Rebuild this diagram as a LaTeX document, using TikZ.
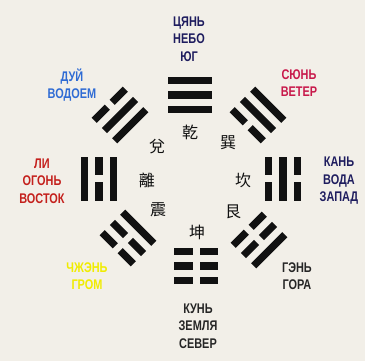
\documentclass[tikz,border=0pt]{standalone}
\usepackage{fontspec}
\newfontfamily\labelfont[FakeStretch=0.78]{Liberation Sans}
\newfontfamily\hanfont{Noto Sans CJK TC}
\definecolor{paper}{HTML}{F2EFE8}
\definecolor{barink}{HTML}{111111}
\definecolor{navyink}{HTML}{1E1C5E}
\definecolor{blueink}{HTML}{2F6BD4}
\definecolor{crimsonink}{HTML}{C8194B}
\definecolor{redink}{HTML}{C4201C}
\definecolor{yellowink}{HTML}{F0EC00}
\definecolor{grayink}{HTML}{262626}
\tikzset{
  barfill/.style={fill=barink},
  gualabel/.style={font={\labelfont\bfseries\fontsize{14}{17.5}\selectfont},
    align=center, inner sep=0pt},
  hanchar/.style={font={\hanfont\fontsize{16}{16}\selectfont}, text=barink,
    inner sep=0pt}
}
% trigram: centre, rotation, lines from outer to inner (1 solid, 0 broken)
\newcommand{\drawgua}[3]{%
  \begin{scope}[shift={#1}, rotate=#2]
    \foreach \l [count=\i] in {#3} {
      \pgfmathsetmacro{\yy}{(2-\i)*14.5}
      \ifnum\l=1
        \fill[barfill] (-22,\yy-3.7) rectangle (22,\yy+3.7);
      \else
        \fill[barfill] (-22,\yy-3.7) rectangle (-3.5,\yy+3.7);
        \fill[barfill] (3.5,\yy-3.7) rectangle (22,\yy+3.7);
      \fi
    }
  \end{scope}}

\begin{document}
\begin{tikzpicture}[x=1pt,y=1pt]
  \fill[paper] (0,0) rectangle (365,361);
  \useasboundingbox (0,0) rectangle (365,361);

  % eight trigrams round the centre
  \drawgua{(190,266)}{0}{1,1,1}
  \drawgua{(258,246)}{-45}{1,1,0}
  \drawgua{(283,182)}{-90}{0,1,0}
  \drawgua{(259,121)}{-135}{1,0,0}
  \drawgua{(196,95)}{180}{0,0,0}
  \drawgua{(128,123)}{135}{0,0,1}
  \drawgua{(99,182)}{90}{1,0,1}
  \drawgua{(120,246)}{45}{0,1,1}

  % names inside the ring
  \node[hanchar] (hqian) at (190,229) {乾};
  \node[hanchar] (hxun) at (228,218) {巽};
  \node[hanchar] (hkan) at (243,181) {坎};
  \node[hanchar] (hgen) at (233,149) {艮};
  \node[hanchar] (hkun) at (197,129) {坤};
  \node[hanchar] (hzhen) at (158,151) {震};
  \node[hanchar] (hli) at (147,181) {離};
  \node[hanchar] (hdui) at (157,214) {兌};

  % labels outside
  \node[gualabel, text=navyink] (lqian) at (189,322) {ЦЯНЬ\\НЕБО\\ЮГ};
  \node[gualabel, text=crimsonink] (lxun) at (299,278) {СЮНЬ\\ВЕТЕР};
  \node[gualabel, text=navyink] (lkan) at (339,180) {КАНЬ\\ВОДА\\ЗАПАД};
  \node[gualabel, text=grayink] (lgen) at (297,85) {ГЭНЬ\\ГОРА};
  \node[gualabel, text=grayink] (lkun) at (198,35) {КУНЬ\\ЗЕМЛЯ\\СЕВЕР};
  \node[gualabel, text=yellowink] (lzhen) at (87,85) {ЧЖЭНЬ\\ГРОМ};
  \node[gualabel, text=redink] (lli) at (42,180) {ЛИ\\ОГОНЬ\\ВОСТОК};
  \node[gualabel, text=blueink] (ldui) at (72,276) {ДУЙ\\ВОДОЕМ};
\end{tikzpicture}
\end{document}
